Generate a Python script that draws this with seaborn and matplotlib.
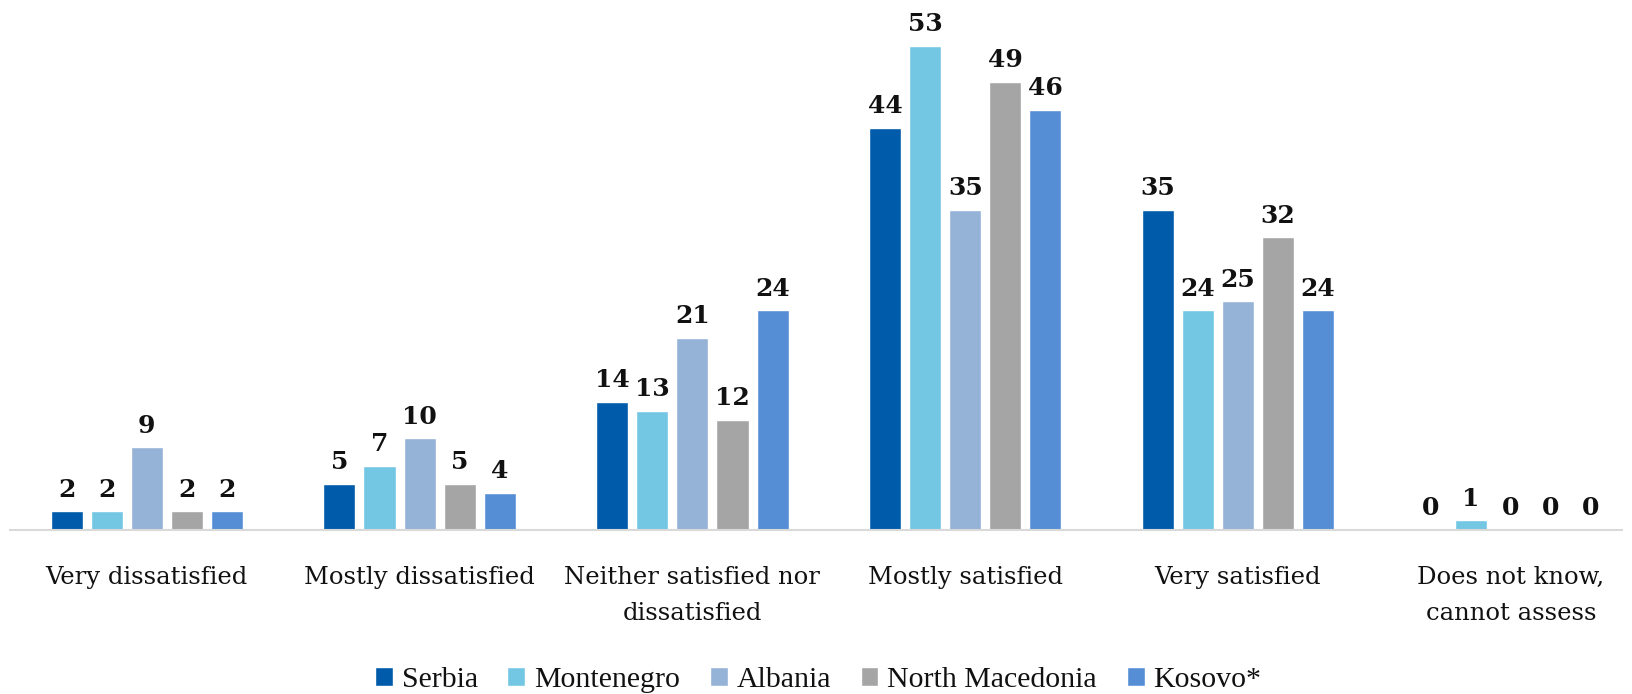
import matplotlib
matplotlib.use("Agg")
import matplotlib.pyplot as plt
import seaborn as sns
import pandas as pd

categories = ["Very dissatisfied", "Mostly dissatisfied", "Neither satisfied nor\ndissatisfied",
              "Mostly satisfied", "Very satisfied", "Does not know,\ncannot assess"]
countries = ["Serbia", "Montenegro", "Albania", "North Macedonia", "Kosovo*"]
serbia = [2, 5, 14, 44, 35, 0]
montenegro = [2, 7, 13, 53, 24, 1]
albania = [9, 10, 21, 35, 25, 0]
north_macedonia = [2, 5, 12, 49, 32, 0]
kosovo = [2, 4, 24, 46, 24, 0]
colors = ["#005BAA", "#74C7E3", "#95B3D7", "#A5A5A5", "#558ED5"]

series = [serbia, montenegro, albania, north_macedonia, kosovo]
rows = []
for c, vals in zip(countries, series):
    for cat, v in zip(categories, vals):
        rows.append({"category": cat, "country": c, "value": v})
df = pd.DataFrame(rows)

sns.set_theme(style="white")
plt.rcParams['font.family'] = ['DejaVu Serif', 'DejaVu Sans']

fig = plt.figure(figsize=(16.33, 6.94), dpi=100)
ax = fig.add_axes([0.0064, 0.237, 0.9869, 0.763])
sns.barplot(data=df, x="category", y="value", hue="country", order=categories,
            hue_order=countries, palette=colors, width=0.735, gap=0.2,
            saturation=1, ax=ax, legend=True)

for cont in ax.containers:
    ax.bar_label(cont, fmt="%g", padding=7, fontsize=18, fontweight="bold",
                 family="DejaVu Serif", color="#111111")

ax.set_ylim(0, 58)
ax.set_xlim(-0.5, 5.408)
ax.set_xlabel("")
ax.set_ylabel("")
ax.set_yticks([])
for s in ["top", "left", "right"]:
    ax.spines[s].set_visible(False)
ax.spines["bottom"].set_color("#D9D9D9")
ax.spines["bottom"].set_linewidth(1.5)
ax.tick_params(axis="x", length=0, pad=26, labelsize=17.5)
for lab in ax.get_xticklabels():
    lab.set_family("DejaVu Serif")
    lab.set_color("#111111")
    lab.set_linespacing(1.75)

handles, labels = ax.get_legend_handles_labels()
ax.get_legend().remove()
leg = fig.legend(handles, labels, loc="center", bbox_to_anchor=(0.501, 0.020), ncol=5,
                 frameon=False, prop={"family": "Liberation Serif", "size": 21.5},
                 handlelength=0.6, handleheight=0.6, handletextpad=0.3, columnspacing=0.99,
                 borderpad=0, borderaxespad=0)
for t in leg.get_texts():
    t.set_color("#111111")

fig.savefig("out.png", dpi=100)
